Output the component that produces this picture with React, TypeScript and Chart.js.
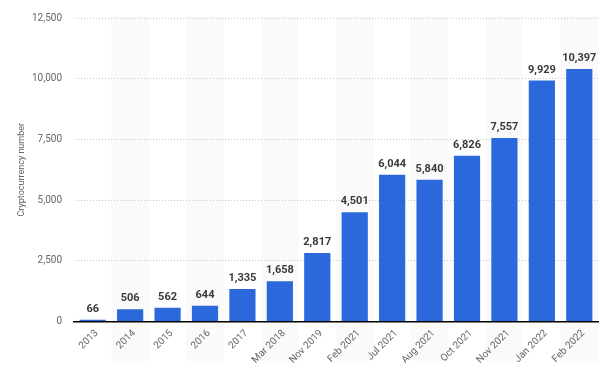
import React, { useEffect, useRef } from "react";
import { Chart, registerables } from "chart.js";

Chart.register(...registerables);

const categories = ["2013", "2014", "2015", "2016", "2017", "Mar 2018", "Nov 2019", "Feb 2021", "Jul 2021", "Aug 2021", "Oct 2021", "Nov 2021", "Jan 2022", "Feb 2022"];
const values = [66, 506, 562, 644, 1335, 1658, 2817, 4501, 6044, 5840, 6826, 7557, 9929, 10397];
const yTicks = [0, 2500, 5000, 7500, 10000, 12500];
const yTitle = "Cryptocurrency number";

const FONT = "Roboto, 'Open Sans', Arial, sans-serif";

const bandsPlugin = {
  id: "bands",
  beforeDraw(chart: any) {
    const { ctx, chartArea } = chart;
    const x = chart.scales.x;
    const n = categories.length;
    const w = (chartArea.right - chartArea.left) / n;
    ctx.save();
    ctx.fillStyle = "#fafafa";
    for (let i = 1; i < n; i += 2) {
      const cx = x.getPixelForValue(i);
      ctx.fillRect(cx - w / 2, chartArea.top - 2, w, chartArea.bottom - chartArea.top + 42);
    }
    ctx.restore();
  },
};

const labelsPlugin = {
  id: "valueLabels",
  afterDatasetsDraw(chart: any) {
    const { ctx } = chart;
    const meta = chart.getDatasetMeta(0);
    ctx.save();
    ctx.font = `bold 11px ${FONT}`;
    ctx.fillStyle = "#3a3a3a";
    ctx.textAlign = "center";
    ctx.textBaseline = "bottom";
    meta.data.forEach((bar: any, i: number) => {
      ctx.fillText(values[i].toLocaleString("en-US"), bar.x, bar.y - 5);
    });
    ctx.restore();
  },
};

export default function App() {
  const ref = useRef<HTMLCanvasElement>(null);
  useEffect(() => {
    if (!ref.current) return;
    const chart = new Chart(ref.current, {
      type: "bar",
      data: {
        labels: categories,
        datasets: [
          {
            data: values,
            backgroundColor: "#2a68dc",
            borderWidth: 0,
            barPercentage: 0.7,
            categoryPercentage: 1,
          },
        ],
      },
      options: {
        animation: false,
        responsive: true,
        maintainAspectRatio: false,
        layout: { padding: { top: 10, right: 2, left: 16, bottom: 6 } },
        plugins: { legend: { display: false }, tooltip: { enabled: false } },
        scales: {
          x: {
            grid: { display: false, drawTicks: false },
            border: { display: true, color: "#000000", width: 1.5 },
            ticks: {
              color: "#666666",
              font: { family: FONT, size: 10 },
              maxRotation: 45,
              minRotation: 45,
              padding: 6,
              labelOffset: 4,
              autoSkip: false,
            },
          },
          y: {
            min: 0,
            max: 12500,
            afterBuildTicks(scale: any) {
              scale.ticks = yTicks.map((v) => ({ value: v }));
            },
            afterFit(scale: any) {
              scale.width = 58;
            },
            grid: {
              color: "#c8c8c8",
              drawTicks: false,
              lineWidth: 1,
            },
            border: { display: true, color: "rgba(0,0,0,0)", dash: [1, 2] },
            ticks: {
              color: "#666666",
              font: { family: FONT, size: 10 },
              padding: 12,
              callback: (v: any) => Number(v).toLocaleString("en-US"),
            },
            title: {
              display: true,
              text: yTitle,
              color: "#666666",
              font: { family: FONT, size: 9 },
              padding: { top: 0, bottom: 4 },
            },
          },
        },
      },
      plugins: [bandsPlugin, labelsPlugin],
    });
    return () => chart.destroy();
  }, []);
  return (
    <div style={{ position: "fixed", left: 0, top: 0, width: 600, height: 378, background: "#ffffff" }}>
      <canvas ref={ref} />
    </div>
  );
}
